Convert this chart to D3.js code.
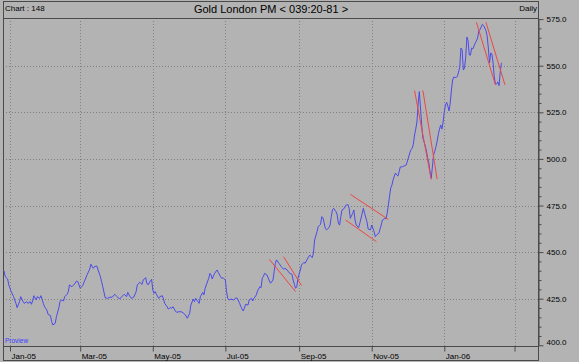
<!DOCTYPE html>
<html>
<head>
<meta charset="utf-8">
<script src="https://cdn.jsdelivr.net/npm/d3@7"></script>
<style>
body{margin:0;background:#b3b3b3;}
svg{display:block;font-family:"Liberation Sans",Arial,sans-serif;}
</style>
</head>
<body>
<script>
// daily fixes
const dates = [
"2004-12-27","2004-12-28","2004-12-30","2004-12-31","2005-01-02","2005-01-04","2005-01-06","2005-01-07","2005-01-09","2005-01-10",
"2005-01-12","2005-01-13","2005-01-15","2005-01-16","2005-01-18","2005-01-19","2005-01-20","2005-01-21","2005-01-23","2005-01-24",
"2005-01-26","2005-01-27","2005-01-29","2005-01-30","2005-02-01","2005-02-02","2005-02-04","2005-02-05","2005-02-06","2005-02-08",
"2005-02-09","2005-02-11","2005-02-12","2005-02-13","2005-02-15","2005-02-16","2005-02-18","2005-02-19","2005-02-20","2005-02-22",
"2005-02-24","2005-02-26","2005-02-27","2005-03-01","2005-03-03","2005-03-05","2005-03-07","2005-03-09","2005-03-10","2005-03-12",
"2005-03-13","2005-03-15","2005-03-16","2005-03-18","2005-03-19","2005-03-20","2005-03-22","2005-03-24","2005-03-26","2005-03-28",
"2005-03-30","2005-04-01","2005-04-03","2005-04-05","2005-04-07","2005-04-09","2005-04-10","2005-04-11","2005-04-13","2005-04-15",
"2005-04-17","2005-04-18","2005-04-20","2005-04-22","2005-04-23","2005-04-25","2005-04-26","2005-04-27","2005-04-29","2005-04-30",
"2005-05-01","2005-05-02","2005-05-03","2005-05-04","2005-05-06","2005-05-07","2005-05-09","2005-05-10","2005-05-11","2005-05-13",
"2005-05-14","2005-05-16","2005-05-17","2005-05-18","2005-05-20","2005-05-21","2005-05-23","2005-05-25","2005-05-27","2005-05-29",
"2005-05-30","2005-06-01","2005-06-02","2005-06-04","2005-06-05","2005-06-06","2005-06-07","2005-06-09","2005-06-10","2005-06-12",
"2005-06-13","2005-06-14","2005-06-15","2005-06-17","2005-06-18","2005-06-19","2005-06-20","2005-06-21","2005-06-22","2005-06-24",
"2005-06-25","2005-06-27","2005-06-28","2005-06-29","2005-07-01","2005-07-02","2005-07-03","2005-07-04","2005-07-06","2005-07-08",
"2005-07-10","2005-07-11","2005-07-13","2005-07-14","2005-07-16","2005-07-17","2005-07-18","2005-07-20","2005-07-21","2005-07-23",
"2005-07-24","2005-07-25","2005-07-27","2005-07-28","2005-07-30","2005-07-31","2005-08-01","2005-08-02","2005-08-03","2005-08-05",
"2005-08-07","2005-08-08","2005-08-10","2005-08-11","2005-08-12","2005-08-13","2005-08-15","2005-08-16","2005-08-17","2005-08-19",
"2005-08-20","2005-08-22","2005-08-23","2005-08-24","2005-08-26","2005-08-27","2005-08-28","2005-08-29","2005-08-30","2005-08-31",
"2005-09-02","2005-09-03","2005-09-05","2005-09-06","2005-09-07","2005-09-09","2005-09-10","2005-09-12","2005-09-13","2005-09-14",
"2005-09-16","2005-09-17","2005-09-19","2005-09-20","2005-09-21","2005-09-23","2005-09-24","2005-09-26","2005-09-27","2005-09-28",
"2005-09-29","2005-09-30","2005-10-02","2005-10-03","2005-10-04","2005-10-05","2005-10-06","2005-10-07","2005-10-09","2005-10-10",
"2005-10-12","2005-10-13","2005-10-14","2005-10-16","2005-10-17","2005-10-18","2005-10-19","2005-10-21","2005-10-22","2005-10-24",
"2005-10-25","2005-10-26","2005-10-28","2005-10-29","2005-10-31","2005-11-01","2005-11-02","2005-11-03","2005-11-04","2005-11-05",
"2005-11-07","2005-11-08","2005-11-09","2005-11-10","2005-11-12","2005-11-13","2005-11-14","2005-11-15","2005-11-16","2005-11-17",
"2005-11-18","2005-11-19","2005-11-20","2005-11-21","2005-11-22","2005-11-23","2005-11-24","2005-11-25","2005-11-27","2005-11-29",
"2005-11-30","2005-12-01","2005-12-02","2005-12-03","2005-12-04","2005-12-05","2005-12-06","2005-12-07","2005-12-08","2005-12-09",
"2005-12-10","2005-12-11","2005-12-12","2005-12-13","2005-12-14","2005-12-15","2005-12-16","2005-12-17","2005-12-18","2005-12-19",
"2005-12-20","2005-12-21","2005-12-22","2005-12-23","2005-12-24","2005-12-25","2005-12-26","2005-12-27","2005-12-28","2005-12-29",
"2005-12-30","2005-12-31","2006-01-01","2006-01-02","2006-01-03","2006-01-04","2006-01-05","2006-01-06","2006-01-07","2006-01-08",
"2006-01-09","2006-01-10","2006-01-11","2006-01-12","2006-01-13","2006-01-14","2006-01-15","2006-01-16","2006-01-17","2006-01-18",
"2006-01-19","2006-01-20","2006-01-21","2006-01-22","2006-01-23","2006-01-24","2006-01-25","2006-01-26","2006-01-27","2006-01-28",
"2006-01-29","2006-01-30","2006-01-31","2006-02-01","2006-02-02","2006-02-03","2006-02-04","2006-02-05","2006-02-06","2006-02-07",
"2006-02-08","2006-02-09","2006-02-10","2006-02-11","2006-02-12","2006-02-13","2006-02-14","2006-02-15","2006-02-16","2006-02-17",
"2006-02-18"];
const prices = [
439.9,436.8,435.6,432.4,428.8,426.1,422.5,420.2,423.4,426.1,
423.4,422.5,423.4,422.5,423.4,422.0,423.8,426.6,424.3,426.1,
425.2,426.6,422.5,420.7,418.9,416.6,415.9,412.7,410.9,411.8,
415.3,419.9,423.4,424.3,423.8,426.1,427.4,428.8,432.4,431.4,
432.7,434.5,434.1,430.6,432.0,435.0,438.1,440.9,443.5,441.3,
442.2,442.5,440.4,436.8,434.1,431.4,425.5,425.2,425.8,425.8,
427.4,426.1,424.8,426.1,427.4,426.1,428.4,427.0,425.2,425.8,
428.8,432.4,433.8,432.7,435.0,436.3,433.3,432.4,434.5,435.4,
429.7,427.9,428.8,427.4,425.2,426.1,426.6,424.8,422.5,420.7,
419.5,420.2,419.9,420.7,418.4,417.7,418.0,418.0,417.2,415.7,
414.5,417.2,421.6,424.8,423.4,425.2,424.3,422.5,426.1,428.4,
427.0,430.6,432.4,435.9,438.6,437.7,435.6,437.3,438.6,440.4,
439.2,436.8,435.9,436.3,435.0,428.8,425.2,424.3,424.8,424.3,
425.5,425.2,422.5,420.7,418.4,419.9,422.0,421.6,424.3,425.2,
423.8,425.2,427.0,429.1,431.4,430.9,436.0,437.0,438.6,437.7,
434.5,433.3,435.0,439.5,444.0,445.8,444.0,443.1,442.2,440.8,
441.3,440.4,439.5,438.6,438.1,435.0,432.7,430.6,431.4,435.9,
440.4,443.1,444.5,444.0,445.2,447.5,448.4,447.0,449.4,456.5,
460.9,463.6,464.9,469.0,468.5,462.8,461.9,463.1,464.5,469.0,
472.6,473.5,471.7,469.9,465.5,464.5,469.0,472.6,473.5,474.9,
475.6,473.5,468.1,470.8,472.6,467.2,464.5,463.1,465.5,470.8,
473.5,470.8,466.3,462.4,461.9,464.5,462.8,461.0,458.3,459.2,
460.1,462.4,464.5,467.2,468.1,467.8,470.8,475.3,480.1,484.4,
486.0,488.7,490.8,492.4,491.4,490.8,493.0,495.7,495.8,496.5,
496.7,498.9,501.0,503.2,505.0,505.6,508.0,512.8,516.0,519.8,
529.5,536.1,527.3,518.2,511.1,509.2,506.9,504.2,500.5,497.8,
493.1,489.6,495.7,502.1,504.2,506.5,509.6,513.4,516.0,518.2,
516.0,519.8,525.3,528.9,530.3,528.4,525.7,530.0,537.0,542.3,
543.9,543.7,543.7,544.2,546.6,549.3,559.5,558.4,547.7,548.8,
554.7,565.4,563.3,555.7,555.7,559.5,559.0,560.6,562.2,563.3,
564.9,568.6,569.4,570.8,572.2,571.6,570.2,568.9,566.0,559.5,
551.5,556.8,556.3,551.5,543.9,540.2,540.2,541.3,539.3,546.6,
551.5];

// red channel lines (start / end)
const chanStart = ["2005-08-07","2005-08-19","2005-10-14","2005-10-10","2005-12-07","2005-12-14","2006-01-28","2006-02-05"];
const chanStartVal = [446.1,447.5,481.0,467.2,536.7,536.7,573.3,573.3];
const chanEnd = ["2005-08-29","2005-09-03","2005-11-15","2005-11-05","2005-12-21","2005-12-26","2006-02-13","2006-02-21"];
const chanEndVal = [428.8,432.1,467.5,455.6,489.0,489.1,539.7,539.7];

const xTickDates = ["2005-01-01","2005-03-01","2005-05-01","2005-07-01","2005-09-01","2005-11-01","2006-01-01","2006-03-01"];
const xTickLabels = ["Jan-05","Mar-05","May-05","Jul-05","Sep-05","Nov-05","Jan-06",""];
const yTicks = [400,425,450,475,500,525,550,575];

const width = 579, height = 362;
const plotL = 3, plotR = 538, plotT = 18, plotB = 346;
const frameCol = "#4a4a4a";

const parse = d3.utcParse("%Y-%m-%d");

let svg = d3.select("body").append("svg")
	.attr("width", width)
	.attr("height", height);

svg.append("rect")
	.attr("width", width).attr("height", height)
	.attr("fill", "#b3b3b3");

let x = d3.scaleUtc()
	.domain([parse("2005-01-01"), parse("2006-01-01")])
	.range([10, 444.3]);
let y = d3.scaleLinear()
	.domain([400, 575])
	.range([345.3, 19.1]);

svg.append("clipPath").attr("id", "plot")
	.append("rect")
	.attr("x", plotL).attr("y", plotT)
	.attr("width", plotR - plotL).attr("height", plotB - plotT);

//grid
svg.append("g").selectAll("line")
	.data(xTickDates)
	.enter().append("line")
	.attr("x1", d => Math.round(x(parse(d))) + 0.5)
	.attr("x2", d => Math.round(x(parse(d))) + 0.5)
	.attr("y1", plotT).attr("y2", plotB)
	.attr("stroke", "#808080")
	.attr("stroke-dasharray", "1,2");
svg.append("g").selectAll("line")
	.data(yTicks.filter(d => d > 400 && d < 575))
	.enter().append("line")
	.attr("x1", plotL).attr("x2", plotR)
	.attr("y1", d => Math.round(y(d)) + 0.5)
	.attr("y2", d => Math.round(y(d)) + 0.5)
	.attr("stroke", "#808080")
	.attr("stroke-dasharray", "1,2");

//frame
svg.append("rect")
	.attr("x", plotL + 0.5).attr("y", 1.5)
	.attr("width", plotR - plotL).attr("height", height - 3)
	.attr("fill", "none").attr("stroke", frameCol);
svg.append("line")
	.attr("x1", plotL).attr("x2", plotR)
	.attr("y1", plotT + 0.5).attr("y2", plotT + 0.5)
	.attr("stroke", frameCol);
svg.append("line")
	.attr("x1", plotL).attr("x2", plotR)
	.attr("y1", plotB + 0.5).attr("y2", plotB + 0.5)
	.attr("stroke", frameCol);

//x axis
let xAxis = svg.append("g")
	.attr("transform", "translate(0," + (plotB + 0.5) + ")")
	.call(d3.axisBottom(x)
		.tickValues(xTickDates.map(parse))
		.tickSize(5)
		.tickSizeOuter(0)
		.tickPadding(2)
		.tickFormat((d, i) => xTickLabels[i]));
xAxis.select(".domain").remove();
xAxis.selectAll("line").attr("stroke", frameCol);
xAxis.selectAll("text")
	.attr("text-anchor", "start")
	.attr("x", 1)
	.attr("fill", "#000")
	.style("font-size", "8px");

//y axis
let yMinor = svg.append("g")
	.attr("transform", "translate(" + (plotR + 0.5) + ",0)")
	.call(d3.axisRight(y)
		.tickValues(d3.range(400, 576, 5).filter(d => d % 25 !== 0))
		.tickSize(3)
		.tickFormat(""));
yMinor.select(".domain").remove();
yMinor.selectAll("line").attr("stroke", frameCol);

let yAxis = svg.append("g")
	.attr("transform", "translate(" + (plotR + 0.5) + ",0)")
	.call(d3.axisRight(y)
		.tickValues(yTicks)
		.tickSize(5)
		.tickSizeOuter(0)
		.tickPadding(3)
		.tickFormat(d3.format(".1f")));
yAxis.select(".domain").attr("stroke", frameCol);
yAxis.selectAll("line").attr("stroke", frameCol);
yAxis.selectAll("text")
	.attr("fill", "#000")
	.style("font-size", "8px");
// bottom label sits a little higher, as in the original
yAxis.selectAll(".tick text").filter(d => d === 400).attr("y", -3);

//price line
let line = d3.line()
	.x((d, i) => x(parse(dates[i])))
	.y(d => y(d));
svg.append("path")
	.datum(prices)
	.attr("clip-path", "url(#plot)")
	.attr("d", line)
	.attr("fill", "none")
	.attr("stroke", "#4b4bea")
	.attr("stroke-width", 1);

//channels
svg.append("g").selectAll("line")
	.data(chanStart)
	.enter().append("line")
	.attr("x1", (d, i) => x(parse(chanStart[i])))
	.attr("y1", (d, i) => y(chanStartVal[i]))
	.attr("x2", (d, i) => x(parse(chanEnd[i])))
	.attr("y2", (d, i) => y(chanEndVal[i]))
	.attr("stroke", "#f04646")
	.attr("stroke-width", 1);

//texts
svg.append("text")
	.attr("x", 5).attr("y", 11)
	.style("font-size", "8px")
	.text("Chart : 148");
svg.append("text")
	.attr("x", 271).attr("y", 13)
	.attr("text-anchor", "middle")
	.style("font-size", "11px")
	.text("Gold London PM < 039:20-81 >");
svg.append("text")
	.attr("x", plotR - 1).attr("y", 11)
	.attr("text-anchor", "end")
	.style("font-size", "8px")
	.text("Daily");
svg.append("text")
	.attr("x", 5).attr("y", 343)
	.attr("fill", "#3c3cff")
	.style("font-size", "6.5px")
	.text("Proview");
</script>
</body>
</html>
